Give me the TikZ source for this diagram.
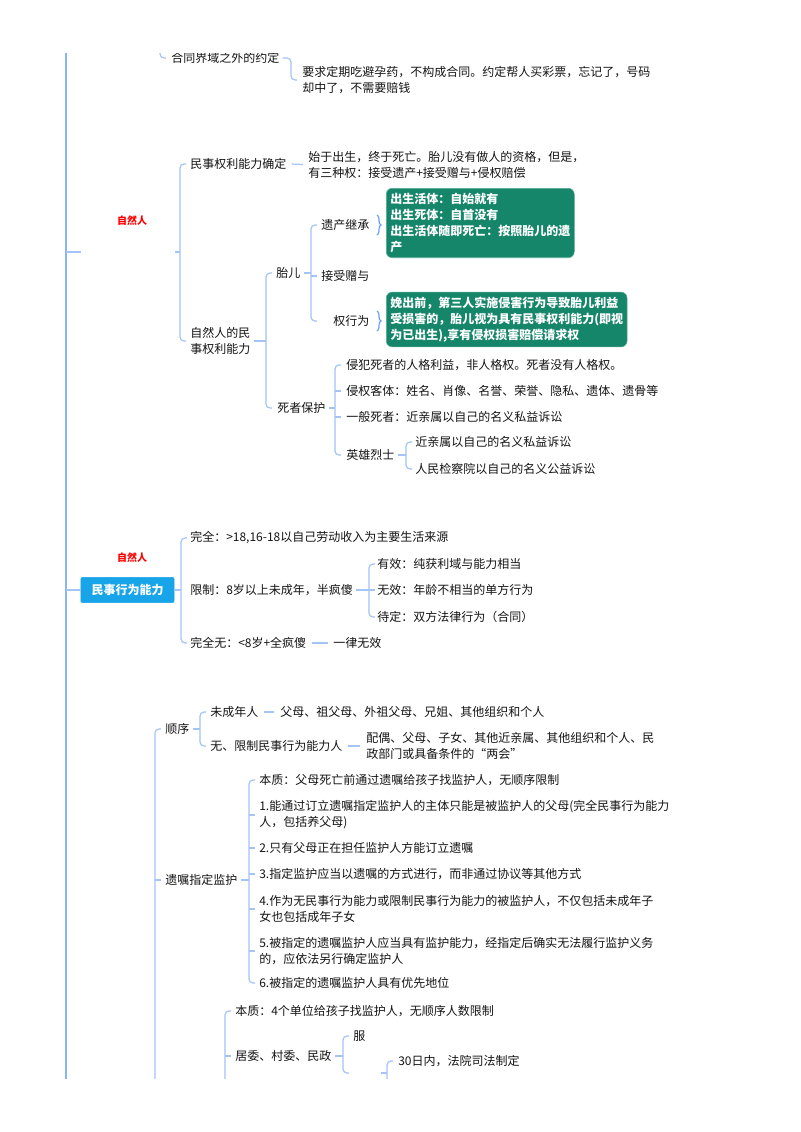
\documentclass[tikz,border=0pt]{standalone}
\usepackage{fontspec}
\setmainfont{Noto Sans CJK SC}
\usetikzlibrary{calc,decorations.pathreplacing}
\definecolor{lc}{RGB}{164,196,246}
\definecolor{mc}{RGB}{138,180,248}
\definecolor{bc}{RGB}{110,160,242}
\definecolor{tc}{RGB}{20,20,20}
\definecolor{gbox}{RGB}{22,134,106}
\definecolor{bbox}{RGB}{24,164,232}
\newcommand\mmfs{\fontsize{9}{12}\selectfont}
\newcommand\mmBr[3]{\draw[ln] ($(#2 -| #1)+(6,0)$) -- (#2 -| #1) -- (#3 -| #1) -- ($(#3 -| #1)+(6,0)$);}
\newcommand\mmTick[2]{\draw[ln] (#2 -| #1) -- ($(#2 -| #1)+(6,0)$);}
\newcommand\mmStub[2]{\draw[ln] ($(#2.east)+(3,0)$) -- (#2 -| #1);}
\tikzset{
  txt/.style={anchor=west, inner sep=0pt, font=\mmfs, text=tc, align=left},
  ln/.style={draw=lc, line width=0.9pt, rounded corners=3pt},
  mln/.style={draw=mc, line width=1.5pt},
  redlab/.style={inner sep=0pt, text=red, font=\fontsize{7.5}{9}\selectfont\bfseries},
  gnode/.style={anchor=west, draw=gbox!70!white, fill=gbox, rounded corners=4.5pt, text=white,
    font=\fontsize{9}{12.2}\selectfont\bfseries, align=left, inner xsep=3pt, inner ysep=3.4pt},
  bnode/.style={draw=bbox, fill=bbox, rounded corners=1.5pt, text=white,
    font=\fontsize{9}{12}\selectfont\bfseries, minimum width=70pt, minimum height=19pt, inner sep=0pt},
  brc/.style={draw=bc, line width=0.9pt, decorate, decoration={brace, amplitude=3pt}},
  dashl/.style={draw=lc, line width=0.9pt}
}
\begin{document}
\begin{tikzpicture}[x=0.75pt, y=-0.75pt]
\path[use as bounding box, fill=white] (0,0) rectangle (800,1132);
\begin{scope}
\clip (0,53) rectangle (800,1078.5);
% trunk
\coordinate (trunk) at (66,0);
\coordinate (trunkTop) at (66,40);
\coordinate (trunkBot) at (66,1090);
\draw[mln] (trunkTop) -- (trunkBot);

% ---------- top part ----------
\node[txt] (hetong) at (171,58) {合同界域之外的约定};
\node[txt] (yaoqiu) at (302,80) {要求定期吃避孕药，不构成合同。约定帮人买彩票，忘记了，号码\\却中了，不需要赔钱};
\coordinate (b0) at (160,0);
\coordinate (b0top) at (160,20);
\draw[ln] (b0top) -- (hetong -| b0) -- ($(hetong -| b0)+(6,0)$);
\coordinate (bA) at (291,0);
\draw[ln] ($(hetong.east)+(3,0)$) -- (hetong -| bA) -- (yaoqiu -| bA) -- ($(yaoqiu -| bA)+(6,0)$);

% ---------- 自然人 (权利能力) ----------
\node[redlab] (zrr1) at (132,221) {自然人};
\coordinate (zrrL) at (81,252);
\coordinate (zrrR) at (175,252);
\draw[ln] (zrrL -| trunk) -- (zrrL);
\coordinate (b1) at (180,0);
\draw[ln] (zrrR) -- (zrrR -| b1);

\node[txt] (qnqd) at (190,164) {民事权利能力确定};
\node[txt] (shiyu) at (308,164.5) {始于出生，终于死亡。胎儿没有做人的资格，但是，\\有三种权：接受遗产+接受赠与+侵权赔偿};
\node[txt] (zrrnl) at (190,341) {自然人的民\\事权利能力};
\mmBr{b1}{qnqd}{zrrnl}
\draw[dashl] ($(qnqd.east)+(5,0)$) -- ($(shiyu.west)+(-5,0)$);

\coordinate (b2) at (266,0);
\node[txt] (taier) at (276,273) {胎儿};
\node[txt] (sizhe) at (277,408) {死者保护};
\mmStub{b2}{zrrnl}
\mmBr{b2}{taier}{sizhe}

\coordinate (b3) at (311,0);
\node[txt] (yichan) at (321,225) {遗产继承};
\node[txt] (jieshou) at (321,276) {接受赠与};
\node[txt] (qinquan) at (333,321) {权行为};
\mmStub{b3}{taier}
\mmBr{b3}{yichan}{qinquan}
\mmTick{b3}{jieshou}

\node[gnode] (box1) at (386,223) {出生活体：自始就有\\出生死体：自首没有\\出生活体随即死亡：按照胎儿的遗\\产};
\node[gnode] (box2) at (386,319.5) {娩出前，第三人实施侵害行为导致胎儿利益\\受损害的，胎儿视为具有民事权利能力(即视\\为已出生),享有侵权损害赔偿请求权};
\coordinate (br1a) at (377,215);
\coordinate (br1b) at (377,235);
\coordinate (br2a) at (377,311);
\coordinate (br2b) at (377,331);
\draw[brc] (br1a) -- (br1b);
\draw[brc] (br2a) -- (br2b);

\coordinate (b4) at (335,0);
\node[txt] (s1) at (346,365) {侵犯死者的人格利益，非人格权。死者没有人格权。};
\node[txt] (s2) at (346,391) {侵权客体：姓名、肖像、名誉、荣誉、隐私、遗体、遗骨等};
\node[txt] (s3) at (346,417) {一般死者：近亲属以自己的名义私益诉讼};
\node[txt] (yx) at (346,455) {英雄烈士};
\mmStub{b4}{sizhe}
\mmBr{b4}{s1}{yx}
\mmTick{b4}{s2}
\mmTick{b4}{s3}

\coordinate (b5) at (406,0);
\node[txt] (y1) at (415,442) {近亲属以自己的名义私益诉讼};
\node[txt] (y2) at (415,469) {人民检察院以自己的名义公益诉讼};
\mmStub{b5}{yx}
\mmBr{b5}{y1}{y2}

% ---------- 民事行为能力 ----------
\node[redlab] (zrr2) at (132,558) {自然人};
\node[bnode] (xwnl) at (127.5,590) {民事行为能力};
\draw[ln] (xwnl -| trunk) -- (xwnl.west);
\coordinate (b6) at (181,0);
\node[txt] (wq) at (190,538) {完全：>18,16-18以自己劳动收入为主要生活来源};
\node[txt] (xz) at (190,590) {限制：8岁以上未成年，半疯傻};
\node[txt] (wqw) at (190,643) {完全无：<8岁+全疯傻};
\node[txt] (ylwx) at (333,643) {一律无效};
\draw[ln] (xwnl.east) -- (xwnl -| b6);
\mmBr{b6}{wq}{wqw}
\draw[dashl] ($(wqw.east)+(5,0)$) -- ($(ylwx.west)+(-5,0)$);

\coordinate (b7) at (369,0);
\node[txt] (yxo) at (377,564) {有效：纯获利域与能力相当};
\node[txt] (wxo) at (377,590) {无效：年龄不相当的单方行为};
\node[txt] (ddo) at (377,617) {待定：双方法律行为（合同）};
\mmStub{b7}{xz}
\mmBr{b7}{yxo}{ddo}
\mmTick{b7}{wxo}

% ---------- 监护 ----------
\coordinate (bL) at (155,0);
\coordinate (bLend) at (155,1090);
\node[txt] (shunxu) at (165,729) {顺序};
\node[txt] (yizhu) at (165,880) {遗嘱指定监护};
\draw[ln] ($(shunxu -| bL)+(6,0)$) -- (shunxu -| bL) -- (bLend);
\mmTick{bL}{yizhu}

\coordinate (b8) at (200,0);
\node[txt] (wcn) at (210,712) {未成年人};
\node[txt] (fm) at (280,712) {父母、祖父母、外祖父母、兄姐、其他组织和个人};
\node[txt] (wxz) at (210,746) {无、限制民事行为能力人};
\node[txt] (po) at (366,746) {配偶、父母、子女、其他近亲属、其他组织和个人、民\\政部门或具备条件的“两会”};
\mmStub{b8}{shunxu}
\mmBr{b8}{wcn}{wxz}
\draw[dashl] ($(wcn.east)+(5,0)$) -- ($(fm.west)+(-6,0)$);
\draw[dashl] ($(wxz.east)+(5,0)$) -- ($(po.west)+(-6,0)$);

\coordinate (b9) at (249,0);
\node[txt] (bz1) at (259,780) {本质：父母死亡前通过遗嘱给孩子找监护人，无顺序限制};
\node[txt] (i1) at (259,815) {1.能通过订立遗嘱指定监护人的主体只能是被监护人的父母(完全民事行为能力\\人，包括养父母)};
\node[txt] (i2) at (259,848) {2.只有父母正在担任监护人方能订立遗嘱};
\node[txt] (i3) at (259,874) {3.指定监护应当以遗嘱的方式进行，而非通过协议等其他方式};
\node[txt] (i4) at (259,909) {4.作为无民事行为能力或限制民事行为能力的被监护人，不仅包括未成年子\\女也包括成年子女};
\node[txt] (i5) at (259,951) {5.被指定的遗嘱监护人应当具有监护能力，经指定后确实无法履行监护义务\\的，应依法另行确定监护人};
\node[txt] (i6) at (259,983) {6.被指定的遗嘱监护人具有优先地位};
\mmStub{b9}{yizhu}
\mmBr{b9}{bz1}{i6}
\mmTick{b9}{i1}
\mmTick{b9}{i2}
\mmTick{b9}{i3}
\mmTick{b9}{i4}
\mmTick{b9}{i5}

\coordinate (b10) at (225,0);
\coordinate (b10end) at (225,1090);
\node[txt] (bz2) at (235,1011) {本质：4个单位给孩子找监护人，无顺序人数限制};
\node[txt] (jw) at (235,1056) {居委、村委、民政};
\draw[ln] ($(bz2 -| b10)+(6,0)$) -- (bz2 -| b10) -- (b10end);
\mmTick{b10}{jw}

\coordinate (b11) at (343,0);
\node[txt] (fu) at (353,1036) {服};
\coordinate (blank) at (349,1073);
\mmStub{b11}{jw}
\mmBr{b11}{fu}{blank}

\coordinate (b12) at (387,0);
\coordinate (blankR) at (381,1073);
\coordinate (b12end) at (387,1090);
\node[txt] (d30) at (398,1061) {30日内，法院司法制定};
\draw[ln] (blankR) -- (blankR -| b12);
\draw[ln] ($(d30 -| b12)+(6,0)$) -- (d30 -| b12) -- (b12end);
\end{scope}
\end{tikzpicture}
\end{document}
